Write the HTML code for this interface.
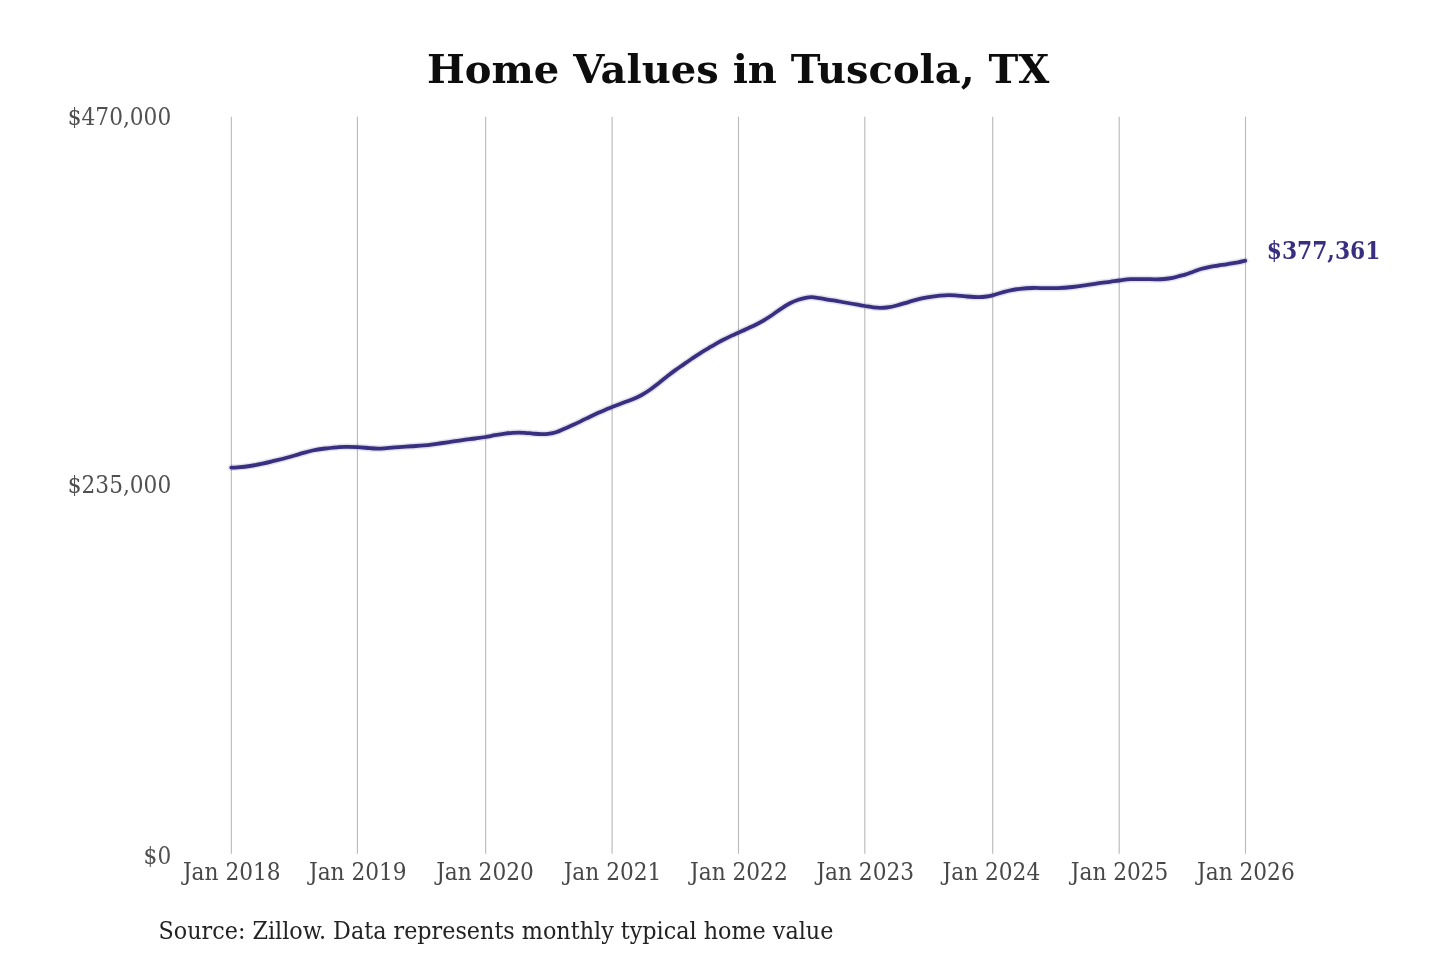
<!DOCTYPE html>
<html lang="en"><head><meta charset="utf-8">
<title>Home Values in Tuscola, TX</title>
<style>
html,body{margin:0;padding:0;background:#ffffff;}
body{width:1440px;height:960px;overflow:hidden;}
svg{display:block;will-change:transform;}
text{font-family:"DejaVu Serif","Liberation Serif",serif;}
.title{font-weight:bold;fill:#0d0d0d;}
.cond{font-family:"DejaVu Serif Condensed","DejaVu Serif","Liberation Serif",serif;font-stretch:condensed;}
.val{font-family:"DejaVu Serif Condensed","DejaVu Serif","Liberation Serif",serif;font-stretch:condensed;font-weight:bold;}
</style></head><body>
<svg width="1440" height="960" viewBox="0 0 1440 960">
<rect x="0" y="0" width="1440" height="960" fill="#ffffff"/>
<g stroke="#b9b9b9" stroke-width="1.1" fill="none">
<line x1="231.35" y1="116.70" x2="231.35" y2="853.80"/>
<line x1="357.40" y1="116.70" x2="357.40" y2="853.80"/>
<line x1="485.65" y1="116.70" x2="485.65" y2="853.80"/>
<line x1="612.10" y1="116.70" x2="612.10" y2="853.80"/>
<line x1="738.50" y1="116.70" x2="738.50" y2="853.80"/>
<line x1="864.80" y1="116.70" x2="864.80" y2="853.80"/>
<line x1="992.70" y1="116.70" x2="992.70" y2="853.80"/>
<line x1="1119.20" y1="116.70" x2="1119.20" y2="853.80"/>
<line x1="1245.50" y1="116.70" x2="1245.50" y2="853.80"/>
</g>
<text class="title" x="738.20" y="83.20" font-size="40" text-anchor="middle">Home Values in Tuscola, TX</text>
<g class="cond" font-size="24.1" fill="#505050" text-anchor="end">
<text x="171.20" y="124.90">$470,000</text>
<text x="171.20" y="492.90">$235,000</text>
<text x="171.20" y="864.30">$0</text>
</g>
<g class="cond" font-size="24.1" fill="#474747" text-anchor="end">
<text x="280.55" y="879.60">Jan 2018</text>
<text x="406.60" y="879.60">Jan 2019</text>
<text x="533.75" y="879.60">Jan 2020</text>
<text x="661.30" y="879.60">Jan 2021</text>
<text x="787.70" y="879.60">Jan 2022</text>
<text x="914.00" y="879.60">Jan 2023</text>
<text x="1040.20" y="879.60">Jan 2024</text>
<text x="1168.40" y="879.60">Jan 2025</text>
<text x="1294.70" y="879.60">Jan 2026</text>
</g>
<path d="M231.35 467.70 C232.38 467.65 234.39 467.68 237.50 467.40 C240.61 467.12 245.83 466.62 250.00 466.00 C254.17 465.38 258.33 464.58 262.50 463.70 C266.67 462.82 270.83 461.73 275.00 460.70 C279.17 459.67 283.33 458.63 287.50 457.50 C291.67 456.37 295.83 455.07 300.00 453.90 C304.17 452.73 308.33 451.40 312.50 450.50 C316.67 449.60 320.83 449.03 325.00 448.50 C329.17 447.97 334.17 447.57 337.50 447.30 C340.83 447.03 341.67 446.93 345.00 446.90 C348.33 446.87 353.33 446.88 357.50 447.10 C361.67 447.32 366.53 447.95 370.00 448.20 C373.47 448.45 375.52 448.62 378.30 448.60 C381.08 448.58 383.22 448.35 386.70 448.10 C390.18 447.85 395.03 447.41 399.20 447.10 C403.37 446.79 407.53 446.53 411.70 446.25 C415.87 445.97 420.03 445.81 424.20 445.40 C428.37 444.99 432.53 444.35 436.70 443.80 C440.87 443.25 444.90 442.72 449.20 442.10 C453.50 441.48 458.20 440.70 462.50 440.10 C466.80 439.50 471.15 439.02 475.00 438.50 C478.85 437.98 482.27 437.55 485.60 437.00 C488.93 436.45 491.77 435.77 495.00 435.20 C498.23 434.63 502.08 434.00 505.00 433.60 C507.92 433.20 510.21 432.97 512.50 432.80 C514.79 432.63 516.67 432.60 518.75 432.60 C520.83 432.60 522.62 432.63 525.00 432.80 C527.38 432.97 530.25 433.37 533.00 433.60 C535.75 433.83 539.00 434.15 541.50 434.20 C544.00 434.25 545.58 434.22 548.00 433.90 C550.42 433.58 553.17 433.22 556.00 432.30 C558.83 431.38 562.12 429.65 565.00 428.40 C567.88 427.15 570.52 426.07 573.30 424.80 C576.08 423.53 578.92 422.15 581.70 420.80 C584.48 419.45 587.23 418.03 590.00 416.70 C592.77 415.37 595.80 413.93 598.30 412.80 C600.80 411.67 602.70 410.85 605.00 409.90 C607.30 408.95 608.77 408.40 612.10 407.10 C615.43 405.80 621.47 403.45 625.00 402.10 C628.53 400.75 630.52 400.18 633.30 399.00 C636.08 397.82 638.92 396.53 641.70 395.00 C644.48 393.47 647.23 391.73 650.00 389.80 C652.77 387.87 655.52 385.57 658.30 383.40 C661.08 381.23 663.92 378.97 666.70 376.80 C669.48 374.63 672.23 372.43 675.00 370.40 C677.77 368.37 680.52 366.53 683.30 364.60 C686.08 362.67 688.92 360.68 691.70 358.80 C694.48 356.92 697.23 355.05 700.00 353.30 C702.77 351.55 705.80 349.80 708.30 348.30 C710.80 346.80 712.50 345.72 715.00 344.30 C717.50 342.88 720.52 341.25 723.30 339.80 C726.08 338.35 729.20 336.78 731.70 335.60 C734.20 334.42 735.53 333.93 738.30 332.70 C741.07 331.47 745.23 329.62 748.30 328.20 C751.37 326.78 753.92 325.63 756.70 324.20 C759.48 322.77 762.23 321.27 765.00 319.60 C767.77 317.93 770.52 316.08 773.30 314.20 C776.08 312.32 778.92 310.12 781.70 308.30 C784.48 306.48 787.23 304.72 790.00 303.30 C792.77 301.88 795.52 300.75 798.30 299.80 C801.08 298.85 804.47 298.03 806.70 297.60 C808.93 297.17 809.62 297.10 811.70 297.20 C813.78 297.30 816.57 297.80 819.20 298.20 C821.83 298.60 824.87 299.18 827.50 299.60 C830.13 300.02 832.08 300.22 835.00 300.70 C837.92 301.18 841.25 301.83 845.00 302.50 C848.75 303.17 854.17 304.12 857.50 304.70 C860.83 305.28 862.37 305.55 865.00 306.00 C867.63 306.45 870.80 307.08 873.30 307.40 C875.80 307.72 877.77 307.88 880.00 307.90 C882.23 307.92 883.92 307.90 886.70 307.50 C889.48 307.10 892.95 306.45 896.70 305.50 C900.45 304.55 905.03 302.98 909.20 301.80 C913.37 300.62 917.53 299.32 921.70 298.40 C925.87 297.48 930.32 296.82 934.20 296.30 C938.08 295.78 941.53 295.45 945.00 295.30 C948.47 295.15 951.53 295.22 955.00 295.40 C958.47 295.58 961.92 296.12 965.80 296.40 C969.68 296.68 974.82 297.08 978.30 297.10 C981.78 297.12 984.33 296.80 986.70 296.50 C989.07 296.20 989.73 296.03 992.50 295.30 C995.27 294.57 1000.10 292.97 1003.30 292.10 C1006.50 291.23 1008.92 290.65 1011.70 290.10 C1014.48 289.55 1016.53 289.15 1020.00 288.80 C1023.47 288.45 1028.33 288.12 1032.50 288.00 C1036.67 287.88 1040.83 288.08 1045.00 288.10 C1049.17 288.12 1052.92 288.28 1057.50 288.10 C1062.08 287.92 1067.92 287.45 1072.50 287.00 C1077.08 286.55 1080.83 286.00 1085.00 285.40 C1089.17 284.80 1093.33 284.00 1097.50 283.40 C1101.67 282.80 1106.38 282.28 1110.00 281.80 C1113.62 281.32 1115.73 280.93 1119.20 280.50 C1122.67 280.07 1126.78 279.43 1130.80 279.20 C1134.82 278.97 1139.13 279.08 1143.30 279.10 C1147.47 279.12 1152.32 279.32 1155.80 279.30 C1159.28 279.28 1161.42 279.23 1164.20 279.00 C1166.98 278.77 1169.87 278.42 1172.50 277.90 C1175.13 277.38 1177.92 276.45 1180.00 275.90 C1182.08 275.35 1182.78 275.30 1185.00 274.60 C1187.22 273.90 1190.52 272.67 1193.30 271.70 C1196.08 270.73 1198.92 269.62 1201.70 268.80 C1204.48 267.98 1207.23 267.35 1210.00 266.80 C1212.77 266.25 1215.52 265.92 1218.30 265.50 C1221.08 265.08 1223.92 264.73 1226.70 264.30 C1229.48 263.87 1231.92 263.50 1235.00 262.90 C1238.08 262.30 1243.50 261.07 1245.20 260.70" fill="none" stroke="#392f81" stroke-opacity="0.14" stroke-width="6.8" stroke-linecap="round" stroke-linejoin="round"/>
<path d="M231.35 467.70 C232.38 467.65 234.39 467.68 237.50 467.40 C240.61 467.12 245.83 466.62 250.00 466.00 C254.17 465.38 258.33 464.58 262.50 463.70 C266.67 462.82 270.83 461.73 275.00 460.70 C279.17 459.67 283.33 458.63 287.50 457.50 C291.67 456.37 295.83 455.07 300.00 453.90 C304.17 452.73 308.33 451.40 312.50 450.50 C316.67 449.60 320.83 449.03 325.00 448.50 C329.17 447.97 334.17 447.57 337.50 447.30 C340.83 447.03 341.67 446.93 345.00 446.90 C348.33 446.87 353.33 446.88 357.50 447.10 C361.67 447.32 366.53 447.95 370.00 448.20 C373.47 448.45 375.52 448.62 378.30 448.60 C381.08 448.58 383.22 448.35 386.70 448.10 C390.18 447.85 395.03 447.41 399.20 447.10 C403.37 446.79 407.53 446.53 411.70 446.25 C415.87 445.97 420.03 445.81 424.20 445.40 C428.37 444.99 432.53 444.35 436.70 443.80 C440.87 443.25 444.90 442.72 449.20 442.10 C453.50 441.48 458.20 440.70 462.50 440.10 C466.80 439.50 471.15 439.02 475.00 438.50 C478.85 437.98 482.27 437.55 485.60 437.00 C488.93 436.45 491.77 435.77 495.00 435.20 C498.23 434.63 502.08 434.00 505.00 433.60 C507.92 433.20 510.21 432.97 512.50 432.80 C514.79 432.63 516.67 432.60 518.75 432.60 C520.83 432.60 522.62 432.63 525.00 432.80 C527.38 432.97 530.25 433.37 533.00 433.60 C535.75 433.83 539.00 434.15 541.50 434.20 C544.00 434.25 545.58 434.22 548.00 433.90 C550.42 433.58 553.17 433.22 556.00 432.30 C558.83 431.38 562.12 429.65 565.00 428.40 C567.88 427.15 570.52 426.07 573.30 424.80 C576.08 423.53 578.92 422.15 581.70 420.80 C584.48 419.45 587.23 418.03 590.00 416.70 C592.77 415.37 595.80 413.93 598.30 412.80 C600.80 411.67 602.70 410.85 605.00 409.90 C607.30 408.95 608.77 408.40 612.10 407.10 C615.43 405.80 621.47 403.45 625.00 402.10 C628.53 400.75 630.52 400.18 633.30 399.00 C636.08 397.82 638.92 396.53 641.70 395.00 C644.48 393.47 647.23 391.73 650.00 389.80 C652.77 387.87 655.52 385.57 658.30 383.40 C661.08 381.23 663.92 378.97 666.70 376.80 C669.48 374.63 672.23 372.43 675.00 370.40 C677.77 368.37 680.52 366.53 683.30 364.60 C686.08 362.67 688.92 360.68 691.70 358.80 C694.48 356.92 697.23 355.05 700.00 353.30 C702.77 351.55 705.80 349.80 708.30 348.30 C710.80 346.80 712.50 345.72 715.00 344.30 C717.50 342.88 720.52 341.25 723.30 339.80 C726.08 338.35 729.20 336.78 731.70 335.60 C734.20 334.42 735.53 333.93 738.30 332.70 C741.07 331.47 745.23 329.62 748.30 328.20 C751.37 326.78 753.92 325.63 756.70 324.20 C759.48 322.77 762.23 321.27 765.00 319.60 C767.77 317.93 770.52 316.08 773.30 314.20 C776.08 312.32 778.92 310.12 781.70 308.30 C784.48 306.48 787.23 304.72 790.00 303.30 C792.77 301.88 795.52 300.75 798.30 299.80 C801.08 298.85 804.47 298.03 806.70 297.60 C808.93 297.17 809.62 297.10 811.70 297.20 C813.78 297.30 816.57 297.80 819.20 298.20 C821.83 298.60 824.87 299.18 827.50 299.60 C830.13 300.02 832.08 300.22 835.00 300.70 C837.92 301.18 841.25 301.83 845.00 302.50 C848.75 303.17 854.17 304.12 857.50 304.70 C860.83 305.28 862.37 305.55 865.00 306.00 C867.63 306.45 870.80 307.08 873.30 307.40 C875.80 307.72 877.77 307.88 880.00 307.90 C882.23 307.92 883.92 307.90 886.70 307.50 C889.48 307.10 892.95 306.45 896.70 305.50 C900.45 304.55 905.03 302.98 909.20 301.80 C913.37 300.62 917.53 299.32 921.70 298.40 C925.87 297.48 930.32 296.82 934.20 296.30 C938.08 295.78 941.53 295.45 945.00 295.30 C948.47 295.15 951.53 295.22 955.00 295.40 C958.47 295.58 961.92 296.12 965.80 296.40 C969.68 296.68 974.82 297.08 978.30 297.10 C981.78 297.12 984.33 296.80 986.70 296.50 C989.07 296.20 989.73 296.03 992.50 295.30 C995.27 294.57 1000.10 292.97 1003.30 292.10 C1006.50 291.23 1008.92 290.65 1011.70 290.10 C1014.48 289.55 1016.53 289.15 1020.00 288.80 C1023.47 288.45 1028.33 288.12 1032.50 288.00 C1036.67 287.88 1040.83 288.08 1045.00 288.10 C1049.17 288.12 1052.92 288.28 1057.50 288.10 C1062.08 287.92 1067.92 287.45 1072.50 287.00 C1077.08 286.55 1080.83 286.00 1085.00 285.40 C1089.17 284.80 1093.33 284.00 1097.50 283.40 C1101.67 282.80 1106.38 282.28 1110.00 281.80 C1113.62 281.32 1115.73 280.93 1119.20 280.50 C1122.67 280.07 1126.78 279.43 1130.80 279.20 C1134.82 278.97 1139.13 279.08 1143.30 279.10 C1147.47 279.12 1152.32 279.32 1155.80 279.30 C1159.28 279.28 1161.42 279.23 1164.20 279.00 C1166.98 278.77 1169.87 278.42 1172.50 277.90 C1175.13 277.38 1177.92 276.45 1180.00 275.90 C1182.08 275.35 1182.78 275.30 1185.00 274.60 C1187.22 273.90 1190.52 272.67 1193.30 271.70 C1196.08 270.73 1198.92 269.62 1201.70 268.80 C1204.48 267.98 1207.23 267.35 1210.00 266.80 C1212.77 266.25 1215.52 265.92 1218.30 265.50 C1221.08 265.08 1223.92 264.73 1226.70 264.30 C1229.48 263.87 1231.92 263.50 1235.00 262.90 C1238.08 262.30 1243.50 261.07 1245.20 260.70" fill="none" stroke="#392f81" stroke-width="3.8" stroke-linecap="round" stroke-linejoin="round"/>
<text class="val" x="1266.80" y="258.90" font-size="24.2" fill="#392f81">$377,361</text>
<text class="cond" x="158.60" y="939.40" font-size="24.78" fill="#222222">Source: Zillow. Data represents monthly typical home value</text>
</svg>
</body></html>
